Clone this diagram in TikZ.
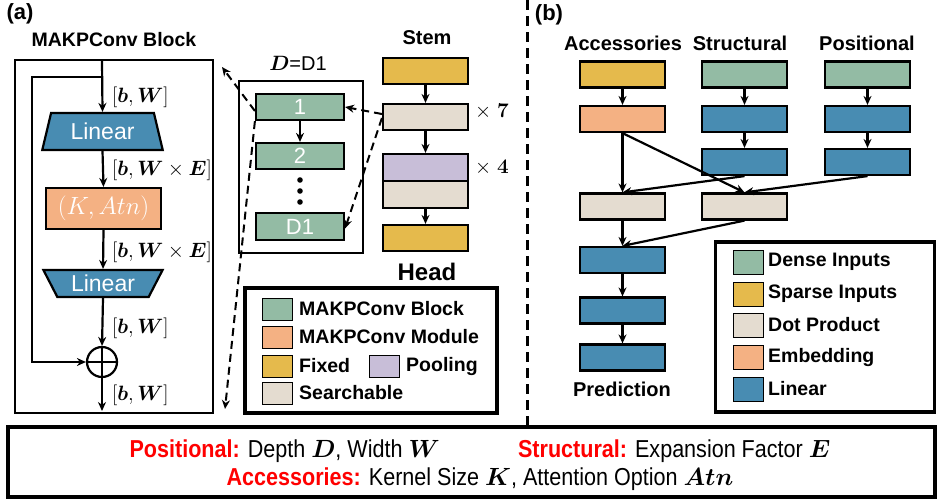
\documentclass[tikz,border=0pt]{standalone}
\usepackage{fontspec}
\usepackage{amsmath}
\usepackage{bm}
\setmainfont{Liberation Sans}
\newfontfamily\narrowfont{Liberation Sans}[FakeStretch=0.88]
\usetikzlibrary{arrows.meta,positioning,shapes.geometric,calc}

\definecolor{mkGreen}{RGB}{147,187,164}
\definecolor{mkGold}{RGB}{229,186,76}
\definecolor{mkBeige}{RGB}{228,220,208}
\definecolor{mkOrange}{RGB}{244,177,131}
\definecolor{mkBlue}{RGB}{72,140,178}
\definecolor{mkPurple}{RGB}{200,190,216}
\newcommand{\mkred}[1]{\textcolor{red}{\textbf{#1}}}
\newcommand{\fsz}[1]{\fontsize{#1}{#1}\selectfont}

\tikzset{
  blk/.style={draw, line width=2.2pt, minimum width=85pt, minimum height=26pt, inner sep=0pt},
  arr/.style={-{Stealth[length=9pt,width=8pt]}, line width=2.2pt},
  darr/.style={-{Stealth[length=9pt,width=8pt]}, line width=2pt, dash pattern=on 8pt off 5pt},
  swatch/.style={draw, line width=1pt, minimum width=30pt, minimum height=22pt, inner sep=0pt},
  lgtext/.style={anchor=west, font=\bfseries\fsz{19.5}, inner sep=0pt},
  heading/.style={font=\bfseries\fsz{20}, inner sep=0pt},
  dims/.style={anchor=west, font=\fsz{21}, inner sep=0pt},
  linear/.style={trapezium, trapezium stretches=true, draw, line width=2.2pt, fill=mkBlue,
    text=white, font=\fsz{23}, inner sep=0pt},
}

\begin{document}
\begin{tikzpicture}[x=1pt, y=-1pt]
  \useasboundingbox (0,0) rectangle (938,499);

  % ---------- (a) MAKPConv block ----------
  \node[font=\bfseries\fsz{22}, inner sep=0pt] (alabel) at (20,14) {(a)};
  \node[heading, font=\bfseries\fsz{19.5}] (blocktitle) at (114,40) {MAKPConv Block};
  \node[draw, line width=2.4pt, minimum width=198pt, minimum height=353pt] (blockbox) at (114,236.5) {};

  \coordinate (blockin) at (102,61);
  \coordinate (blockout) at (102,411);
  \coordinate (skipA) at (102,77);
  \coordinate (skipB) at (32,77);
  \coordinate (skipC) at (32,362);

  \node[linear, trapezium angle=72, minimum width=121pt, minimum height=37pt] (lin1) at (102.5,131.5) {Linear};
  \node[draw, line width=2.2pt, fill=mkOrange, text=white, minimum width=115pt, minimum height=41pt,
        font=\fsz{23}] (kat) at (103.5,208.5) {$(K,Atn)$};
  \node[linear, shape border rotate=180, trapezium angle=60, minimum width=120pt, minimum height=27pt] (lin2) at (103,283.5) {Linear};
  \node[circle, draw, line width=2.2pt, minimum size=30pt, inner sep=0pt,
        path picture={\draw[line width=2.2pt] (path picture bounding box.north) -- (path picture bounding box.south)
                      (path picture bounding box.west) -- (path picture bounding box.east);}] (plus) at (102,362) {};

  \draw[arr] (blockin) -- (lin1.north);
  \draw[arr] (lin1.south) -- (kat.north);
  \draw[arr] (kat.south) -- (lin2.north);
  \draw[arr] (lin2.south) -- (plus.north);
  \draw[arr] (plus.south) -- (blockout);
  \draw[arr] (skipA) -- (skipB) -- (skipC) -- (plus.west);

  \node[dims] (dim1) at (112,97) {$[\bm{b},\bm{W}]$};
  \node[dims] (dim2) at (112,170) {$[\bm{b},\bm{W}\times\bm{E}]$};
  \node[dims] (dim3) at (112,252) {$[\bm{b},\bm{W}\times\bm{E}]$};
  \node[dims] (dim4) at (112,328) {$[\bm{b},\bm{W}]$};
  \node[dims] (dim5) at (112,395) {$[\bm{b},\bm{W}]$};

  % ---------- depth stack ----------
  \node[font=\fsz{20}, inner sep=0pt] (depthtitle) at (298,63) {$\bm{D}$=D1};
  \node[draw, line width=2.2pt, minimum width=124pt, minimum height=172pt] (depthbox) at (301,167) {};
  \node[blk, fill=mkGreen, minimum width=88pt, text=white, font=\fsz{22}] (b1) at (300,107) {1};
  \node[blk, fill=mkGreen, minimum width=88pt, text=white, font=\fsz{22}] (b2) at (300,156) {2};
  \node[blk, fill=mkGreen, minimum width=88pt, minimum height=27pt, text=white, font=\fsz{22}] (bd) at (300,226.5) {D1};
  \draw[arr] (b1) -- (b2);
  \foreach \dy in {180,191,202}
    \fill (300,\dy) circle (2.8pt);

  % ---------- stem / head ----------
  \node[heading] (stemlbl) at (427,38) {Stem};
  \node[blk, fill=mkGold] (stem) at (425.5,71) {};
  \node[blk, fill=mkBeige] (srch7) at (425.5,117) {};
  \node[blk, fill=mkPurple, minimum height=27pt] (pool) at (425.5,167.5) {};
  \node[blk, fill=mkBeige, minimum height=27pt] (srch4) at (425.5,194.5) {};
  \node[blk, fill=mkGold] (head) at (425.5,238) {};
  \node[heading, font=\bfseries\fsz{24}] (headlbl) at (427,272) {Head};
  \node[font=\fsz{22}, anchor=west, inner sep=0pt] (rep7) at (475,112) {$\times\;\bm{7}$};
  \node[font=\fsz{22}, anchor=west, inner sep=0pt] (rep4) at (475,168) {$\times\;\bm{4}$};
  \draw[arr] (stem) -- (srch7);
  \draw[arr] (srch7) -- (pool);
  \draw[arr] (srch4) -- (head);

  % dashed zoom-in links
  \coordinate (zoomtop) at (222,67);
  \coordinate (zoombot) at (225,409);
  \draw[darr] ([yshift=-4pt]b1.west) -- (zoomtop);
  \draw[darr] (b1.south west) -- (zoombot);
  \draw[darr] ([yshift=3pt]srch7.west) -- (b1.east);
  \draw[darr] ([yshift=-1pt]srch7.west) -- ([yshift=-2pt]bd.east);

  % legend (a)
  \node[draw, line width=3.5pt, minimum width=252pt, minimum height=125pt] (legA) at (371,350.5) {};
  \node[swatch, fill=mkGreen] (sA1) at (277,309) {};
  \node[swatch, fill=mkOrange] (sA2) at (277,337) {};
  \node[swatch, fill=mkGold] (sA3) at (277,366) {};
  \node[swatch, fill=mkPurple] (sA5) at (384,366) {};
  \node[swatch, fill=mkBeige] (sA4) at (277,393) {};
  \node[lgtext] (tA1) at (299,309) {MAKPConv Block};
  \node[lgtext] (tA2) at (299,337) {MAKPConv Module};
  \node[lgtext] (tA3) at (299,366) {Fixed};
  \node[lgtext] (tA5) at (406,366) {Pooling};
  \node[lgtext] (tA4) at (299,393) {Searchable};

  % ---------- separator ----------
  \coordinate (septop) at (527,0);
  \coordinate (sepbot) at (527,426);
  \draw[line width=3pt, dash pattern=on 10pt off 6pt] (septop) -- (sepbot);

  % ---------- (b) search space ----------
  \node[font=\bfseries\fsz{22}, inner sep=0pt] (blabel) at (549,15) {(b)};
  \node[heading] (hacc) at (623,43) {Accessories};
  \node[heading] (hstr) at (740,43) {Structural};
  \node[heading] (hpos) at (867,43) {Positional};

  \node[blk, fill=mkGold] (acc1) at (622.5,74.5) {};
  \node[blk, fill=mkOrange] (acc2) at (622.5,119) {};
  \node[blk, fill=mkBeige] (acc4) at (622.5,206.5) {};
  \node[blk, fill=mkBlue] (acc5) at (622.5,260) {};
  \node[blk, fill=mkBlue] (acc6) at (622.5,310.5) {};
  \node[blk, fill=mkBlue] (acc7) at (622.5,357.5) {};
  \node[heading] (predlbl) at (622,389) {Prediction};

  \node[blk, fill=mkGreen] (str1) at (744.5,74.5) {};
  \node[blk, fill=mkBlue] (str2) at (744.5,119) {};
  \node[blk, fill=mkBlue] (str3) at (744.5,162) {};
  \node[blk, fill=mkBeige] (str4) at (744.5,206.5) {};

  \node[blk, fill=mkGreen] (pos1) at (867.5,74.5) {};
  \node[blk, fill=mkBlue] (pos2) at (867.5,119) {};
  \node[blk, fill=mkBlue] (pos3) at (867.5,162) {};

  \draw[arr] (acc1) -- (acc2);
  \draw[arr] (acc2) -- (acc4);
  \draw[arr] (acc2.south) -- (str4.north);
  \draw[arr] (str3.south) -- (acc4.north);
  \draw[arr] (pos3.south) -- (str4.north);
  \draw[arr] (str1) -- (str2);
  \draw[arr] (str2) -- (str3);
  \draw[arr] (pos1) -- (pos2);
  \draw[arr] (pos2) -- (pos3);
  \draw[arr] (acc4) -- (acc5);
  \draw[arr] (str4.south) -- (acc5.north);
  \draw[arr] (acc5) -- (acc6);
  \draw[arr] (acc6) -- (acc7);

  % legend (b)
  \node[draw, line width=3.5pt, minimum width=219pt, minimum height=170pt] (legB) at (825,327) {};
  \node[swatch, minimum height=24pt, fill=mkGreen] (sB1) at (748,262) {};
  \node[swatch, minimum height=24pt, fill=mkGold] (sB2) at (748,294) {};
  \node[swatch, minimum height=24pt, fill=mkBeige] (sB3) at (748,325) {};
  \node[swatch, minimum height=24pt, fill=mkOrange] (sB4) at (748,357) {};
  \node[swatch, minimum height=24pt, fill=mkBlue] (sB5) at (748,389) {};
  \node[lgtext] (tB1) at (768,262) {Dense Inputs};
  \node[lgtext] (tB2) at (768,294) {Sparse Inputs};
  \node[lgtext] (tB3) at (768,325) {Dot Product};
  \node[lgtext] (tB4) at (768,357) {Embedding};
  \node[lgtext] (tB5) at (768,389) {Linear};

  % ---------- search dimensions ----------
  \node[draw, line width=3.5pt, minimum width=927pt, minimum height=70pt] (dimbox) at (471.5,462) {};
  \node[align=center, font=\narrowfont\fsz{24.5}, inner sep=0pt] (dimtext) at (480,465)
    {\mkred{Positional:} Depth $\bm{D}$, Width $\bm{W}$\hspace{3.2em}\mkred{Structural:} Expansion Factor $\bm{E}$\\[4pt]
     \mkred{Accessories:} Kernel Size $\bm{K}$, Attention Option $\bm{Atn}$};
\end{tikzpicture}
\end{document}
